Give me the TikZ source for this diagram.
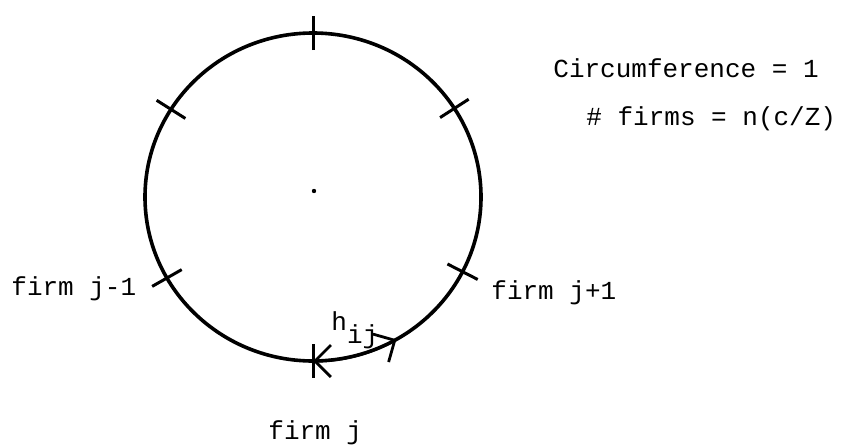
\documentclass[tikz,border=0pt]{standalone}
\usepackage{fontspec}
\setmonofont{Liberation Mono}
\usetikzlibrary{arrows.meta}

\tikzset{
    lbl/.style={font=\ttfamily\fontsize{13pt}{15pt}\selectfont, inner sep=0pt, anchor=base west},
    tick/.style={line width=1.5pt},
    barb/.style={Straight Barb[length=8pt,width=16pt]},
}

\begin{document}
\begin{tikzpicture}[x=0.5pt,y=0.5pt]
    \useasboundingbox (0,0) rectangle (842,446);

    % Cercle des firmes
    \coordinate (c) at (313,249);
    \draw[line width=1.8pt] (c) ellipse [x radius=168, y radius=164];
    \fill (314,255) circle (1.1pt);

    % Positions des firmes
    \foreach \a in {90,32.7,147.7,209.6,-27.1,-90}
        \draw[tick, shift={(c)}] (\a:151 and 147) -- (\a:185 and 181);

    % Distance h_ij
    \coordinate (fj) at (313,85);
    \draw[line width=1.4pt, {Straight Barb[length=8pt,width=16pt]}-{Straight Barb[length=8pt,width=16pt]}]
        (fj) arc [start angle=-90, end angle=-60.2, x radius=168, y radius=164];
    \node[lbl] (h) at (331,116) {h\raisebox{-6.5pt}{ij}};

    % Etiquettes
    \node[lbl] (circ) at (553,369) {Circumference = 1};
    \node[lbl] (nb) at (586,321) {\# firms = n(c/Z)};
    \node[lbl] (jm) at (11,151) {firm j-1};
    \node[lbl] (jp) at (491,147) {firm j+1};
    \node[lbl] (j) at (268,7) {firm j};
\end{tikzpicture}
\end{document}
